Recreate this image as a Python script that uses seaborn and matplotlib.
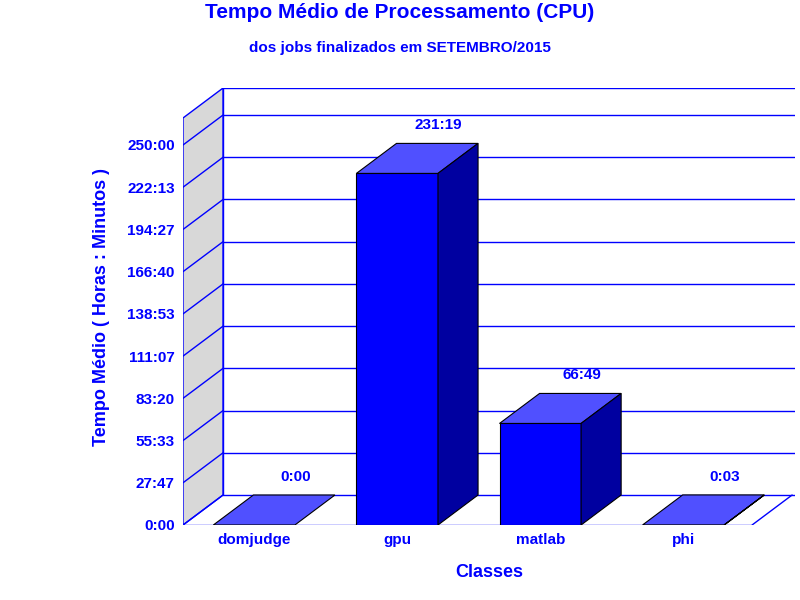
import matplotlib
matplotlib.use('Agg')
import matplotlib.pyplot as plt
import seaborn as sns
import pandas as pd
from matplotlib.patches import Polygon

classes = ['domjudge', 'gpu', 'matlab', 'phi']
minutes = [0, 231 * 60 + 19, 66 * 60 + 49, 3]
tick_labels = ['0:00', '27:47', '55:33', '83:20', '111:07', '138:53',
               '166:40', '194:27', '222:13', '250:00']

BLUE = '#0000FF'
TOP = '#5050FF'
SIDE = '#0000A0'

sns.set_theme(style='white')
plt.rcParams['font.family'] = ['Liberation Sans', 'DejaVu Sans']

df = pd.DataFrame({'classe': classes, 'horas': [m / 60 for m in minutes]})
ticks = [i * 250 / 9 for i in range(len(tick_labels))]

fig = plt.figure(figsize=(8, 6), dpi=100)
ax = fig.add_axes([183 / 800, 75 / 600, 612 / 800, 437 / 600])

x0, x1 = -0.497, 3.78
ymax = 250 * 437 / 380
dx, dy = 0.28, 250 * 30 / 380
w = 0.57

# side wall and back wall
ax.add_patch(Polygon([(x0, 0), (x0 + dx, dy), (x0 + dx, ymax), (x0, ymax - dy)],
                     closed=True, facecolor='#D8D8D8', edgecolor=BLUE, lw=1, zorder=0))
ax.plot([x0 + dx, x1], [ymax, ymax], color=BLUE, lw=1, zorder=1)
ax.plot([x0 + dx, x0 + dx], [dy, ymax], color=BLUE, lw=1, zorder=1)
for t in ticks:
    ax.plot([x0 + dx, x1], [t + dy, t + dy], color=BLUE, lw=1, zorder=1)
    ax.plot([x0, x0 + dx], [t, t + dy], color=BLUE, lw=1, zorder=1)
ax.plot([x0, 3.48], [0, 0], color=BLUE, lw=1, zorder=1)
ax.plot([3.48, 3.48 + dx], [0, dy], color=BLUE, lw=1, zorder=1)

sns.barplot(data=df, x='classe', y='horas', order=classes, color=BLUE,
            width=w, saturation=1, edgecolor='black', linewidth=0.8, ax=ax, zorder=3)

bars = ax.containers[0]
for i, p in enumerate(bars):
    xl = p.get_x()
    xr = xl + p.get_width()
    h = p.get_height()
    ax.add_patch(Polygon([(xl, h), (xl + dx, h + dy), (xr + dx, h + dy), (xr, h)],
                         closed=True, facecolor=TOP, edgecolor='black', lw=0.8, zorder=4))
    if h > 0:
        ax.add_patch(Polygon([(xr, 0), (xr + dx, dy), (xr + dx, h + dy), (xr, h)],
                             closed=True, facecolor=SIDE, edgecolor='black', lw=0.8, zorder=4))
    m = minutes[i]
    ax.text(xl + w / 2 + 0.29, h + dy + 12, f'{m // 60}:{m % 60:02d}', color=BLUE,
            fontsize=11, fontweight='bold', ha='center', va='center')

ax.set_xlim(x0, x1)
ax.set_ylim(0, ymax)
ax.set_yticks(ticks)
ax.set_yticklabels(tick_labels, color=BLUE, fontsize=11, fontweight='bold')
ax.set_xticks(range(len(classes)))
ax.set_xticklabels(classes, color=BLUE, fontsize=11, fontweight='bold')
ax.tick_params(axis='both', length=0, pad=6)
for s in ax.spines.values():
    s.set_visible(False)
ax.patch.set_visible(False)
ax.set_xlabel('Classes', color=BLUE, fontsize=13, fontweight='bold', labelpad=12)
ax.set_ylabel('Tempo Médio ( Horas : Minutos )', color=BLUE, fontsize=13,
              fontweight='bold', labelpad=12)

fig.text(0.5, 1 - 12 / 600, 'Tempo Médio de Processamento (CPU)', color=BLUE,
         fontsize=15, fontweight='bold', ha='center', va='center')
fig.text(0.5, 1 - 48 / 600, 'dos jobs finalizados em SETEMBRO/2015', color=BLUE,
         fontsize=11, fontweight='bold', ha='center', va='center')

fig.savefig('out.png', dpi=100)
